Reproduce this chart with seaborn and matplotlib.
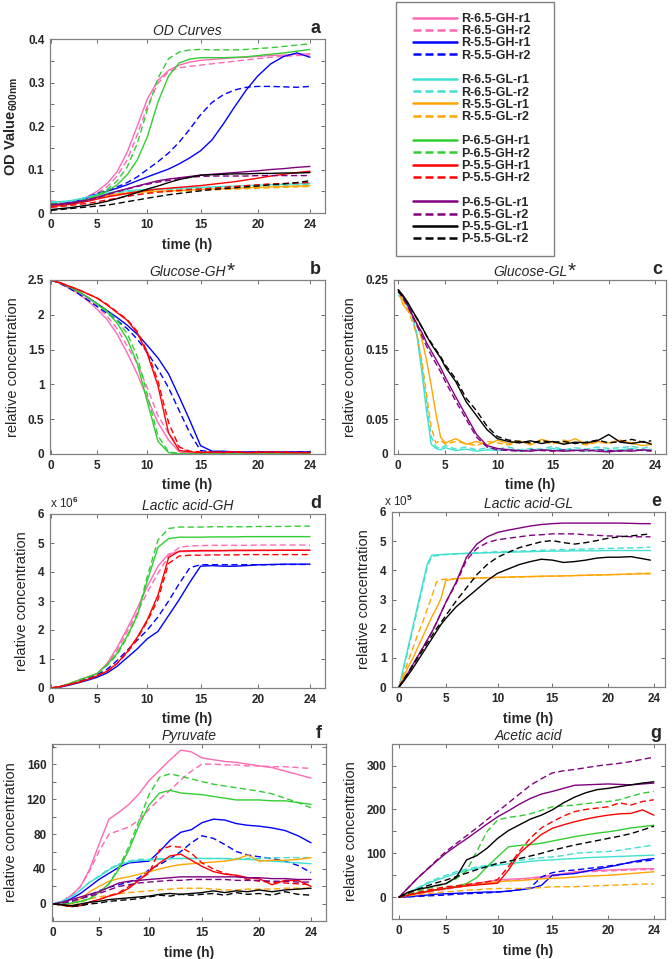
import numpy as np
import pandas as pd
import matplotlib
matplotlib.use("Agg")
import matplotlib.pyplot as plt
import seaborn as sns
from matplotlib.lines import Line2D
from matplotlib.patches import Rectangle
from matplotlib.ticker import FixedLocator, NullLocator

# --- series definitions -------------------------------------------------
series_names = ["R-6.5-GH-r1", "R-6.5-GH-r2", "R-5.5-GH-r1", "R-5.5-GH-r2",
                "R-6.5-GL-r1", "R-6.5-GL-r2", "R-5.5-GL-r1", "R-5.5-GL-r2",
                "P-6.5-GH-r1", "P-6.5-GH-r2", "P-5.5-GH-r1", "P-5.5-GH-r2",
                "P-6.5-GL-r1", "P-6.5-GL-r2", "P-5.5-GL-r1", "P-5.5-GL-r2"]
series_colors = ["#ff69b4", "#ff69b4", "#0000ff", "#0000ff",
                 "#40e0d0", "#40e0d0", "#ffa500", "#ffa500",
                 "#32cd32", "#32cd32", "#ff0000", "#ff0000",
                 "#800080", "#800080", "#000000", "#000000"]
gh_series = [0, 1, 2, 3, 8, 9, 10, 11]
gl_series = [4, 5, 6, 7, 12, 13, 14, 15]

hours = list(range(25))
gl_hours = [0, 0.5, 1, 1.5, 2, 2.5, 3, 3.5, 4, 4.5, 5, 6, 7, 8, 9, 10, 11, 12,
            13, 14, 15, 16, 17, 18, 19, 20, 21, 22, 23, 23.7]

# a: OD600, all 16 series, hourly
od_values = [
    [0.028, 0.025, 0.026, 0.030, 0.038, 0.050, 0.068, 0.095, 0.140, 0.200, 0.262, 0.305, 0.328, 0.340, 0.347, 0.351, 0.353, 0.355, 0.357, 0.358, 0.360, 0.362, 0.363, 0.365, 0.366],
    [0.025, 0.022, 0.023, 0.027, 0.034, 0.045, 0.060, 0.085, 0.122, 0.180, 0.245, 0.298, 0.325, 0.334, 0.337, 0.340, 0.343, 0.346, 0.349, 0.352, 0.355, 0.358, 0.360, 0.362, 0.363],
    [0.020, 0.021, 0.024, 0.028, 0.035, 0.043, 0.050, 0.057, 0.065, 0.074, 0.083, 0.092, 0.101, 0.113, 0.127, 0.143, 0.168, 0.205, 0.245, 0.283, 0.315, 0.343, 0.360, 0.368, 0.358],
    [0.022, 0.023, 0.026, 0.030, 0.037, 0.045, 0.052, 0.060, 0.070, 0.083, 0.100, 0.118, 0.138, 0.163, 0.193, 0.226, 0.254, 0.272, 0.283, 0.289, 0.291, 0.291, 0.290, 0.289, 0.291],
    [0.026, 0.026, 0.028, 0.032, 0.037, 0.042, 0.046, 0.049, 0.051, 0.053, 0.054, 0.055, 0.056, 0.057, 0.058, 0.059, 0.060, 0.061, 0.062, 0.063, 0.064, 0.065, 0.066, 0.067, 0.068],
    [0.024, 0.024, 0.026, 0.030, 0.035, 0.040, 0.044, 0.047, 0.049, 0.051, 0.052, 0.053, 0.054, 0.055, 0.056, 0.057, 0.058, 0.059, 0.060, 0.061, 0.062, 0.063, 0.064, 0.065, 0.066],
    [0.020, 0.020, 0.022, 0.026, 0.031, 0.036, 0.040, 0.044, 0.046, 0.048, 0.049, 0.050, 0.051, 0.052, 0.053, 0.054, 0.055, 0.056, 0.057, 0.058, 0.059, 0.060, 0.061, 0.062, 0.063],
    [0.018, 0.018, 0.020, 0.024, 0.029, 0.034, 0.038, 0.042, 0.044, 0.046, 0.047, 0.048, 0.049, 0.050, 0.051, 0.052, 0.053, 0.054, 0.055, 0.056, 0.057, 0.058, 0.059, 0.060, 0.061],
    [0.022, 0.020, 0.021, 0.024, 0.030, 0.040, 0.050, 0.065, 0.088, 0.122, 0.175, 0.255, 0.315, 0.345, 0.354, 0.357, 0.357, 0.357, 0.358, 0.359, 0.362, 0.365, 0.368, 0.372, 0.376],
    [0.022, 0.020, 0.022, 0.026, 0.032, 0.042, 0.054, 0.074, 0.106, 0.160, 0.237, 0.310, 0.355, 0.370, 0.375, 0.376, 0.375, 0.375, 0.375, 0.376, 0.378, 0.380, 0.383, 0.386, 0.389],
    [0.015, 0.017, 0.020, 0.023, 0.027, 0.032, 0.037, 0.041, 0.045, 0.049, 0.052, 0.055, 0.057, 0.059, 0.061, 0.063, 0.066, 0.069, 0.072, 0.076, 0.080, 0.085, 0.089, 0.093, 0.096],
    [0.013, 0.015, 0.017, 0.020, 0.022, 0.026, 0.030, 0.034, 0.038, 0.042, 0.045, 0.048, 0.050, 0.052, 0.054, 0.055, 0.057, 0.059, 0.061, 0.063, 0.065, 0.067, 0.068, 0.069, 0.070],
    [0.018, 0.020, 0.022, 0.026, 0.030, 0.036, 0.043, 0.050, 0.056, 0.062, 0.068, 0.074, 0.078, 0.081, 0.084, 0.087, 0.089, 0.091, 0.093, 0.095, 0.097, 0.100, 0.102, 0.105, 0.107],
    [0.020, 0.021, 0.023, 0.026, 0.030, 0.035, 0.042, 0.049, 0.055, 0.061, 0.066, 0.071, 0.075, 0.079, 0.082, 0.084, 0.085, 0.085, 0.085, 0.085, 0.086, 0.086, 0.086, 0.086, 0.086],
    [0.008, 0.010, 0.012, 0.015, 0.018, 0.022, 0.027, 0.033, 0.040, 0.047, 0.055, 0.062, 0.070, 0.077, 0.082, 0.087, 0.088, 0.089, 0.090, 0.090, 0.091, 0.091, 0.092, 0.092, 0.093],
    [0.006, 0.008, 0.010, 0.012, 0.014, 0.016, 0.018, 0.022, 0.026, 0.030, 0.034, 0.038, 0.042, 0.045, 0.048, 0.051, 0.054, 0.056, 0.058, 0.060, 0.062, 0.065, 0.067, 0.070, 0.074],
]

# b: glucose, GH series (gh_series order), hourly
glucose_gh = [
    [2.50, 2.45, 2.38, 2.30, 2.20, 2.08, 1.93, 1.72, 1.45, 1.15, 0.80, 0.45, 0.20, 0.03, 0.01, 0, 0, 0, 0, 0, 0, 0, 0, 0, 0],
    [2.50, 2.46, 2.39, 2.31, 2.22, 2.12, 1.98, 1.80, 1.55, 1.30, 0.95, 0.55, 0.30, 0.10, 0.02, 0.01, 0.01, 0.01, 0.01, 0.01, 0.01, 0.01, 0.01, 0.01, 0.01],
    [2.50, 2.46, 2.40, 2.33, 2.25, 2.16, 2.06, 1.96, 1.85, 1.72, 1.56, 1.38, 1.15, 0.82, 0.48, 0.12, 0.04, 0.04, 0.03, 0.03, 0.03, 0.03, 0.03, 0.03, 0.03],
    [2.50, 2.45, 2.38, 2.30, 2.21, 2.12, 2.02, 1.92, 1.80, 1.65, 1.46, 1.22, 0.95, 0.62, 0.30, 0.05, 0.03, 0.03, 0.03, 0.02, 0.03, 0.03, 0.02, 0.03, 0.03],
    [2.50, 2.46, 2.40, 2.33, 2.25, 2.15, 2.04, 1.88, 1.65, 1.30, 0.75, 0.18, 0.02, 0, 0, 0, 0, 0, 0, 0, 0, 0, 0, 0, 0],
    [2.50, 2.46, 2.40, 2.33, 2.25, 2.16, 2.06, 1.92, 1.73, 1.40, 0.85, 0.26, 0.03, 0.01, 0, 0, 0, 0, 0, 0, 0, 0, 0, 0, 0],
    [2.50, 2.46, 2.41, 2.36, 2.30, 2.24, 2.14, 2.03, 1.92, 1.74, 1.44, 0.98, 0.30, 0.05, 0.03, 0.02, 0.03, 0.02, 0.03, 0.02, 0.02, 0.03, 0.02, 0.02, 0.02],
    [2.50, 2.46, 2.41, 2.36, 2.30, 2.24, 2.15, 2.04, 1.93, 1.76, 1.47, 1.05, 0.45, 0.10, 0.04, 0.03, 0.02, 0.03, 0.03, 0.02, 0.03, 0.02, 0.03, 0.02, 0.02],
]

# c: glucose, GL series (gl_series order), gl_hours
glucose_gl = [
    [0.232, 0.226, 0.216, 0.198, 0.168, 0.118, 0.062, 0.014, 0.008, 0.006, 0.009, 0.005, 0.007, 0.004, 0.006, 0.005, 0.007, 0.004, 0.006, 0.005, 0.008, 0.005, 0.006, 0.004, 0.007, 0.005, 0.006, 0.008, 0.005, 0.007],
    [0.228, 0.222, 0.212, 0.196, 0.172, 0.128, 0.075, 0.025, 0.010, 0.008, 0.012, 0.007, 0.010, 0.006, 0.009, 0.007, 0.010, 0.006, 0.008, 0.007, 0.011, 0.006, 0.009, 0.007, 0.010, 0.008, 0.009, 0.011, 0.008, 0.012],
    [0.236, 0.215, 0.206, 0.199, 0.188, 0.165, 0.135, 0.098, 0.058, 0.024, 0.016, 0.022, 0.014, 0.018, 0.013, 0.020, 0.015, 0.019, 0.013, 0.021, 0.017, 0.015, 0.022, 0.014, 0.018, 0.016, 0.020, 0.015, 0.012, 0.014],
    [0.236, 0.222, 0.208, 0.190, 0.170, 0.135, 0.085, 0.038, 0.016, 0.020, 0.014, 0.018, 0.015, 0.012, 0.018, 0.016, 0.013, 0.017, 0.015, 0.019, 0.014, 0.020, 0.016, 0.013, 0.017, 0.015, 0.019, 0.016, 0.018, 0.015],
    [0.236, 0.226, 0.214, 0.200, 0.186, 0.175, 0.160, 0.148, 0.136, 0.124, 0.110, 0.082, 0.055, 0.028, 0.012, 0.008, 0.006, 0.005, 0.004, 0.006, 0.005, 0.004, 0.005, 0.006, 0.004, 0.003, 0.005, 0.004, 0.006, 0.005],
    [0.234, 0.224, 0.212, 0.198, 0.184, 0.170, 0.155, 0.142, 0.130, 0.118, 0.104, 0.076, 0.050, 0.024, 0.010, 0.006, 0.005, 0.004, 0.006, 0.005, 0.004, 0.006, 0.005, 0.004, 0.006, 0.005, 0.004, 0.006, 0.005, 0.004],
    [0.236, 0.228, 0.218, 0.206, 0.195, 0.183, 0.170, 0.158, 0.148, 0.138, 0.125, 0.104, 0.075, 0.055, 0.035, 0.022, 0.018, 0.016, 0.019, 0.015, 0.018, 0.014, 0.017, 0.016, 0.019, 0.028, 0.017, 0.015, 0.018, 0.014],
    [0.234, 0.226, 0.217, 0.205, 0.194, 0.182, 0.170, 0.160, 0.150, 0.140, 0.128, 0.108, 0.080, 0.062, 0.040, 0.025, 0.020, 0.018, 0.016, 0.019, 0.017, 0.018, 0.015, 0.017, 0.020, 0.016, 0.018, 0.021, 0.017, 0.019],
]

# d: lactic acid GH, units of 1e6, hourly
lactic_gh_e6 = [
    [0, 0.05, 0.15, 0.27, 0.38, 0.50, 0.85, 1.40, 2.05, 2.75, 3.50, 4.20, 4.62, 4.70, 4.71, 4.72, 4.72, 4.73, 4.73, 4.73, 4.74, 4.74, 4.75, 4.75, 4.75],
    [0, 0.05, 0.14, 0.25, 0.36, 0.48, 0.80, 1.30, 1.95, 2.60, 3.30, 3.95, 4.55, 4.85, 4.90, 4.91, 4.92, 4.92, 4.92, 4.92, 4.93, 4.93, 4.93, 4.93, 4.93],
    [0, 0.03, 0.10, 0.18, 0.27, 0.37, 0.52, 0.75, 1.05, 1.35, 1.70, 1.95, 2.50, 3.05, 3.65, 4.20, 4.22, 4.20, 4.20, 4.22, 4.25, 4.26, 4.27, 4.27, 4.27],
    [0, 0.04, 0.12, 0.22, 0.33, 0.45, 0.65, 0.95, 1.30, 1.65, 2.00, 2.45, 3.00, 3.60, 4.15, 4.25, 4.25, 4.25, 4.25, 4.25, 4.25, 4.25, 4.26, 4.26, 4.26],
    [0, 0.05, 0.15, 0.27, 0.38, 0.50, 0.80, 1.20, 1.80, 2.50, 3.70, 4.85, 5.15, 5.20, 5.20, 5.20, 5.21, 5.21, 5.21, 5.22, 5.22, 5.22, 5.22, 5.22, 5.22],
    [0, 0.05, 0.15, 0.27, 0.38, 0.50, 0.78, 1.15, 1.75, 2.50, 3.85, 5.10, 5.50, 5.55, 5.55, 5.55, 5.56, 5.56, 5.56, 5.56, 5.57, 5.57, 5.57, 5.58, 5.58],
    [0, 0.05, 0.12, 0.20, 0.30, 0.42, 0.58, 0.85, 1.25, 1.75, 2.35, 3.20, 4.50, 4.72, 4.73, 4.74, 4.74, 4.74, 4.75, 4.75, 4.75, 4.75, 4.75, 4.75, 4.75],
    [0, 0.05, 0.12, 0.20, 0.30, 0.42, 0.58, 0.85, 1.22, 1.70, 2.30, 3.05, 4.30, 4.55, 4.58, 4.58, 4.59, 4.59, 4.59, 4.60, 4.60, 4.60, 4.60, 4.60, 4.60],
]

# e: lactic acid GL, units of 1e5, gl_hours
lactic_gl_e5 = [
    [0, 0.70, 1.40, 2.10, 2.80, 3.50, 4.20, 4.52, 4.53, 4.54, 4.55, 4.57, 4.58, 4.59, 4.60, 4.61, 4.62, 4.63, 4.64, 4.65, 4.66, 4.66, 4.67, 4.67, 4.67, 4.68, 4.68, 4.68, 4.68, 4.68],
    [0, 0.65, 1.30, 2.00, 2.70, 3.40, 4.10, 4.48, 4.50, 4.52, 4.54, 4.56, 4.58, 4.60, 4.62, 4.64, 4.65, 4.66, 4.67, 4.69, 4.70, 4.71, 4.72, 4.73, 4.74, 4.75, 4.76, 4.77, 4.78, 4.80],
    [0, 0.35, 0.70, 1.00, 1.35, 1.70, 2.05, 2.40, 2.70, 3.05, 3.65, 3.72, 3.73, 3.74, 3.75, 3.76, 3.77, 3.78, 3.79, 3.80, 3.80, 3.81, 3.82, 3.83, 3.84, 3.85, 3.86, 3.87, 3.88, 3.88],
    [0, 0.45, 0.90, 1.35, 1.80, 2.20, 2.65, 3.10, 3.60, 3.68, 3.70, 3.71, 3.72, 3.73, 3.74, 3.75, 3.76, 3.77, 3.78, 3.79, 3.80, 3.81, 3.82, 3.83, 3.84, 3.85, 3.86, 3.88, 3.90, 3.90],
    [0, 0.25, 0.50, 0.78, 1.05, 1.32, 1.60, 1.88, 2.20, 2.55, 2.90, 3.60, 4.45, 4.90, 5.15, 5.30, 5.38, 5.45, 5.52, 5.57, 5.60, 5.62, 5.62, 5.62, 5.62, 5.62, 5.62, 5.61, 5.60, 5.60],
    [0, 0.25, 0.50, 0.78, 1.05, 1.32, 1.60, 1.88, 2.20, 2.55, 2.90, 3.55, 4.35, 4.75, 4.95, 5.05, 5.10, 5.15, 5.20, 5.22, 5.25, 5.25, 5.25, 5.22, 5.20, 5.18, 5.17, 5.15, 5.15, 5.15],
    [0, 0.20, 0.42, 0.65, 0.90, 1.15, 1.40, 1.65, 1.90, 2.15, 2.35, 2.75, 3.05, 3.35, 3.65, 3.90, 4.05, 4.20, 4.30, 4.38, 4.35, 4.27, 4.30, 4.35, 4.42, 4.45, 4.45, 4.47, 4.40, 4.35],
    [0, 0.25, 0.50, 0.75, 1.00, 1.25, 1.50, 1.75, 2.00, 2.22, 2.45, 2.95, 3.40, 3.85, 4.20, 4.45, 4.62, 4.78, 4.88, 4.98, 5.02, 4.95, 4.90, 4.95, 5.02, 5.10, 5.15, 5.18, 5.22, 5.25],
]

# f: pyruvate, all 16 series, hourly
pyruvate = [
    [0, 3, 10, 20, 40, 68, 97, 105, 114, 126, 141, 153, 165, 176, 174, 167, 165, 163, 162, 160, 158, 156, 152, 148, 144],
    [0, 3, 10, 20, 38, 60, 80, 84, 88, 96, 108, 120, 130, 142, 152, 160, 160, 159, 159, 158, 158, 157, 157, 156, 155],
    [0, 2, 6, 12, 20, 28, 35, 42, 47, 48, 49, 60, 73, 82, 85, 93, 97, 96, 92, 90, 89, 87, 84, 78, 70],
    [0, 1, 3, 6, 10, 15, 19, 22, 25, 30, 39, 45, 52, 60, 70, 78, 75, 68, 60, 56, 54, 52, 49, 44, 36],
    [0, 3, 8, 16, 25, 31, 39, 45, 48, 50, 50, 51, 52, 52, 52, 52, 52, 52, 51, 51, 50, 49, 48, 47, 46],
    [0, 3, 8, 16, 25, 32, 40, 46, 49, 51, 51, 52, 52, 52, 52, 52, 52, 52, 52, 52, 52, 53, 53, 53, 53],
    [0, -1, 0, 6, 14, 20, 26, 29, 31, 34, 37, 40, 43, 45, 46, 47, 48, 49, 51, 56, 49, 50, 50, 51, 53],
    [0, -2, -3, 2, 6, 8, 10, 12, 13, 14, 15, 16, 17, 18, 18, 18, 17, 16, 16, 17, 17, 17, 18, 18, 18],
    [0, 0, 1, 3, 6, 13, 23, 40, 62, 90, 113, 127, 130, 127, 126, 125, 123, 121, 119, 119, 119, 118, 118, 116, 114],
    [0, 0, 1, 3, 6, 13, 23, 42, 66, 95, 125, 145, 149, 146, 143, 140, 137, 135, 133, 131, 129, 126, 121, 116, 110],
    [0, -1, -3, -2, 2, 5, 9, 12, 18, 27, 37, 47, 55, 57, 50, 43, 37, 34, 33, 30, 29, 22, 27, 27, 20],
    [0, -1, -3, -2, 2, 5, 9, 13, 20, 28, 35, 62, 66, 65, 58, 47, 40, 35, 32, 28, 26, 25, 24, 23, 22],
    [0, 2, 5, 8, 11, 14, 19, 24, 26, 27, 28, 29, 30, 31, 31, 31, 31, 31, 31, 30, 30, 29, 29, 28, 28],
    [0, 1, 3, 6, 9, 12, 16, 20, 22, 24, 25, 26, 27, 27, 28, 28, 28, 28, 27, 27, 27, 26, 26, 25, 25],
    [0, -1, -2, 0, 2, 3, 5, 6, 7, 8, 9, 11, 12, 11, 12, 13, 15, 13, 15, 14, 16, 14, 16, 17, 18],
    [0, -1, -3, -2, 0, 1, 3, 4, 5, 6, 8, 10, 9, 11, 10, 11, 12, 10, 13, 11, 12, 10, 14, 11, 10],
]

# g: acetic acid, all 16 series, hourly
acetic = [
    [0, 5, 9, 13, 17, 20, 24, 28, 32, 36, 39, 41, 42, 44, 47, 50, 54, 58, 60, 61, 62, 63, 64, 65, 65],
    [0, 4, 8, 11, 15, 18, 22, 26, 30, 34, 37, 39, 40, 42, 45, 48, 52, 56, 58, 59, 60, 61, 62, 63, 63],
    [0, 1, 3, 5, 7, 8, 9, 10, 11, 12, 12, 14, 17, 20, 27, 50, 52, 54, 59, 64, 69, 74, 80, 85, 88],
    [0, 1, 2, 3, 4, 5, 7, 8, 9, 10, 12, 14, 17, 22, 46, 56, 60, 62, 65, 68, 71, 75, 79, 82, 85],
    [0, 10, 21, 31, 39, 46, 54, 61, 66, 70, 73, 76, 79, 82, 84, 85, 87, 88, 90, 91, 92, 93, 94, 95, 96],
    [0, 10, 22, 33, 42, 50, 58, 64, 69, 73, 77, 81, 84, 87, 90, 92, 95, 100, 102, 103, 104, 107, 111, 115, 119],
    [0, 5, 9, 13, 17, 20, 23, 26, 29, 32, 35, 37, 38, 40, 42, 43, 44, 46, 48, 49, 50, 52, 54, 56, 58],
    [0, 3, 6, 8, 10, 12, 14, 16, 17, 19, 20, 20, 20, 21, 22, 24, 24, 24, 25, 26, 27, 28, 29, 30, 30],
    [0, 6, 10, 14, 17, 20, 25, 31, 45, 70, 92, 115, 118, 120, 123, 128, 133, 138, 142, 146, 149, 153, 158, 161, 164],
    [0, 8, 14, 20, 25, 31, 42, 60, 105, 150, 176, 182, 185, 190, 198, 206, 208, 210, 213, 216, 218, 222, 230, 237, 241],
    [0, 5, 9, 13, 17, 20, 23, 26, 28, 30, 32, 62, 100, 122, 143, 157, 165, 172, 178, 183, 187, 190, 191, 199, 187],
    [0, 6, 11, 16, 20, 24, 26, 29, 32, 35, 40, 70, 105, 135, 158, 172, 185, 195, 200, 203, 206, 215, 210, 218, 222],
    [0, 22, 44, 63, 82, 100, 117, 133, 150, 167, 183, 197, 212, 225, 235, 241, 248, 255, 256, 257, 258, 257, 256, 258, 260],
    [0, 22, 44, 64, 84, 104, 122, 140, 158, 177, 195, 215, 235, 255, 270, 283, 288, 291, 295, 299, 302, 305, 309, 314, 319],
    [0, 12, 18, 22, 27, 31, 45, 85, 95, 112, 134, 152, 165, 178, 187, 199, 215, 228, 238, 245, 248, 252, 256, 260, 263],
    [0, 10, 18, 26, 33, 39, 47, 55, 63, 70, 77, 82, 88, 94, 100, 107, 113, 119, 124, 129, 134, 139, 145, 153, 162],
]

time_ticks = [0, 5, 10, 15, 20, 24]

# --- style ---------------------------------------------------------------
sns.set_theme(style="ticks")
plt.rcParams["font.family"] = ["Liberation Sans", "DejaVu Sans"]
plt.rcParams["font.weight"] = "bold"
plt.rcParams["mathtext.fontset"] = "custom"
plt.rcParams["mathtext.rm"] = "Liberation Sans:bold"
plt.rcParams["mathtext.bf"] = "Liberation Sans:bold"
plt.rcParams["mathtext.it"] = "Liberation Sans:italic"
plt.rcParams["axes.edgecolor"] = "#808080"
plt.rcParams["axes.linewidth"] = 0.9

TICK_SIZE = 8.5
FIG_W, FIG_H = 672, 959
fig = plt.figure(figsize=(FIG_W / 100, FIG_H / 100), dpi=100)

palette = dict(zip(series_names, series_colors))
rep_dashes = {"r1": "", "r2": (4.5, 2.5)}

# the time axis of the source figure is slightly non-linear
time_knots = [-5, 0, 5, 10, 15, 20, 24, 30]
left_px = [5, 51, 97, 147, 200, 257, 309, 387]
right_px = [352, 399, 446, 498, 553, 609, 655, 725]


def add_panel(left, top, right, bottom):
    return fig.add_axes([left / FIG_W, 1 - bottom / FIG_H,
                         (right - left) / FIG_W, (bottom - top) / FIG_H])


def draw_panel(ax, t, rows, idx, px_knots, xlim):
    frames = []
    for row, i in zip(rows, idx):
        frames.append(pd.DataFrame({"time": t, "value": row,
                                    "series": series_names[i],
                                    "rep": series_names[i][-2:]}))
    df = pd.concat(frames, ignore_index=True)
    sns.lineplot(data=df, x="time", y="value", hue="series",
                 hue_order=[series_names[i] for i in idx],
                 style="rep", style_order=["r1", "r2"], dashes=rep_dashes,
                 palette=palette, estimator=None, sort=False, legend=False,
                 linewidth=1.0, ax=ax)
    ax.set_xscale("function", functions=(
        lambda x: np.interp(x, time_knots, px_knots),
        lambda p: np.interp(p, px_knots, time_knots)))
    ax.set_xlim(*xlim)
    ax.xaxis.set_major_locator(FixedLocator(time_ticks))
    ax.xaxis.set_minor_locator(NullLocator())
    ax.set_xticklabels([str(v) for v in time_ticks])
    ax.set_xlabel("time (h)", fontsize=10, fontweight="bold", labelpad=5)
    ax.tick_params(axis="both", which="both", direction="in", top=True,
                   right=True, length=3, width=0.6, color="#555555",
                   labelsize=TICK_SIZE, pad=4)
    for lab in ax.get_xticklabels():
        lab.set_fontweight("bold")


def finish(ax, title, letter, ylim, major, labels, minor, ylabel,
           ylabel_bold=False, star=False):
    ax.set_ylim(*ylim)
    ax.yaxis.set_major_locator(FixedLocator(major))
    ax.set_yticklabels(labels)
    ax.yaxis.set_minor_locator(FixedLocator(minor))
    for lab in ax.get_yticklabels():
        lab.set_fontweight("bold")
        lab.set_fontsize(TICK_SIZE)
    ttl = ax.set_title(title, fontsize=10, fontstyle="italic",
                       fontweight="normal", pad=3)
    if star:
        ax.annotate("*", xy=(1, 1), xycoords=ttl, xytext=(0.5, 2.5),
                    textcoords="offset points", ha="left", va="top",
                    fontsize=15, fontweight="normal")
    ax.text(0.985, 1.012, letter, transform=ax.transAxes, ha="right",
            va="bottom", fontsize=13, fontweight="bold")
    ax.set_ylabel(ylabel, fontsize=10.5,
                  fontweight="bold" if ylabel_bold else "normal", labelpad=6)


left_xlim = (-0.1, 25.15)
right_xlim = (-0.45, 24.96)

# a
ax_a = add_panel(50, 39, 325, 213)
draw_panel(ax_a, hours, od_values, list(range(16)), left_px, left_xlim)
finish(ax_a, "OD Curves", "a", (0, 0.4), [0, 0.1, 0.2, 0.3, 0.4],
       ["0", "0.1", "0.2", "0.3", "0.4"], [0.05, 0.15, 0.25, 0.35],
       r"OD Value$_{\mathbf{600nm}}$", ylabel_bold=True)

# b
ax_b = add_panel(50, 280, 325, 454)
draw_panel(ax_b, hours, glucose_gh, gh_series, left_px, left_xlim)
finish(ax_b, "Glucose-GH", "b", (0, 2.5), [0, 0.5, 1, 1.5, 2, 2.5],
       ["0", "0.5", "1", "1.5", "2", "2.5"], [], "relative concentration",
       star=True)

# c
ax_c = add_panel(394, 280, 666, 454)
draw_panel(ax_c, gl_hours, glucose_gl, gl_series, right_px, right_xlim)
finish(ax_c, "Glucose-GL", "c", (0, 0.25),
       [0, 0.05, 0.1, 0.15, 0.2, 0.25], ["0", "0.05", "", "0.15", "", "0.25"], [],
       "relative concentration", star=True)

# d
ax_d = add_panel(50, 514, 325, 688)
draw_panel(ax_d, hours, lactic_gh_e6, gh_series, left_px, left_xlim)
finish(ax_d, "Lactic acid-GH", "d", (0, 6), [0, 1, 2, 3, 4, 5, 6],
       ["0", "1", "2", "3", "4", "5", "6"], [], "relative concentration")
ax_d.text(0.0, 1.015, r"x 10$^{6}$", transform=ax_d.transAxes, ha="left",
          va="bottom", fontsize=8.5, fontweight="normal")

# e
ax_e = add_panel(392, 512, 665, 687)
draw_panel(ax_e, gl_hours, lactic_gl_e5, gl_series, right_px, (-0.75, 24.96))
finish(ax_e, "Lactic acid-GL", "e", (0, 6), [0, 1, 2, 3, 4, 5, 6],
       ["0", "1", "2", "3", "4", "5", "6"], [], "relative concentration")
ax_e.text(-0.03, 1.015, r"x 10$^{5}$", transform=ax_e.transAxes, ha="left",
          va="bottom", fontsize=8.5, fontweight="normal")

# f
ax_f = add_panel(52, 744, 326, 921)
draw_panel(ax_f, hours, pyruvate, list(range(16)), left_px, left_xlim)
finish(ax_f, "Pyruvate", "f", (-19.5, 183), [0, 40, 80, 120, 160],
       ["0", "40", "80", "120", "160"], [20, 60, 100, 140, 180],
       "relative concentration")

# g
ax_g = add_panel(392, 744, 665, 919)
draw_panel(ax_g, hours, acetic, list(range(16)), right_px, (-0.75, 24.96))
finish(ax_g, "Acetic acid", "g", (-49.5, 349), [0, 100, 200, 300],
       ["0", "100", "200", "300"], [-50, 50, 150, 250], "relative concentration")

# legend, drawn in its own framed box at the top right
handles, labels = [], []
for k, (name, color) in enumerate(zip(series_names, series_colors)):
    if k and k % 4 == 0:
        handles.append(Line2D([], [], color="none"))
        labels.append("")
    ls = (0, (3.2, 1.6)) if name.endswith("r2") else "-"
    handles.append(Line2D([], [], color=color, lw=1.8, linestyle=ls))
    labels.append(name)
fig.legend(handles, labels, loc="upper left",
           bbox_to_anchor=(413 / FIG_W, 1 - 13 / FIG_H), frameon=False,
           prop={"weight": "bold", "size": 9}, handlelength=3.5,
           handletextpad=0.35, labelspacing=0.02, borderpad=0, borderaxespad=0)
fig.patches.append(Rectangle((396 / FIG_W, 1 - 256 / FIG_H), 158 / FIG_W, 254 / FIG_H,
                             transform=fig.transFigure, fill=False,
                             edgecolor="#808080", linewidth=1.0))

fig.savefig("out.png", dpi=100)
